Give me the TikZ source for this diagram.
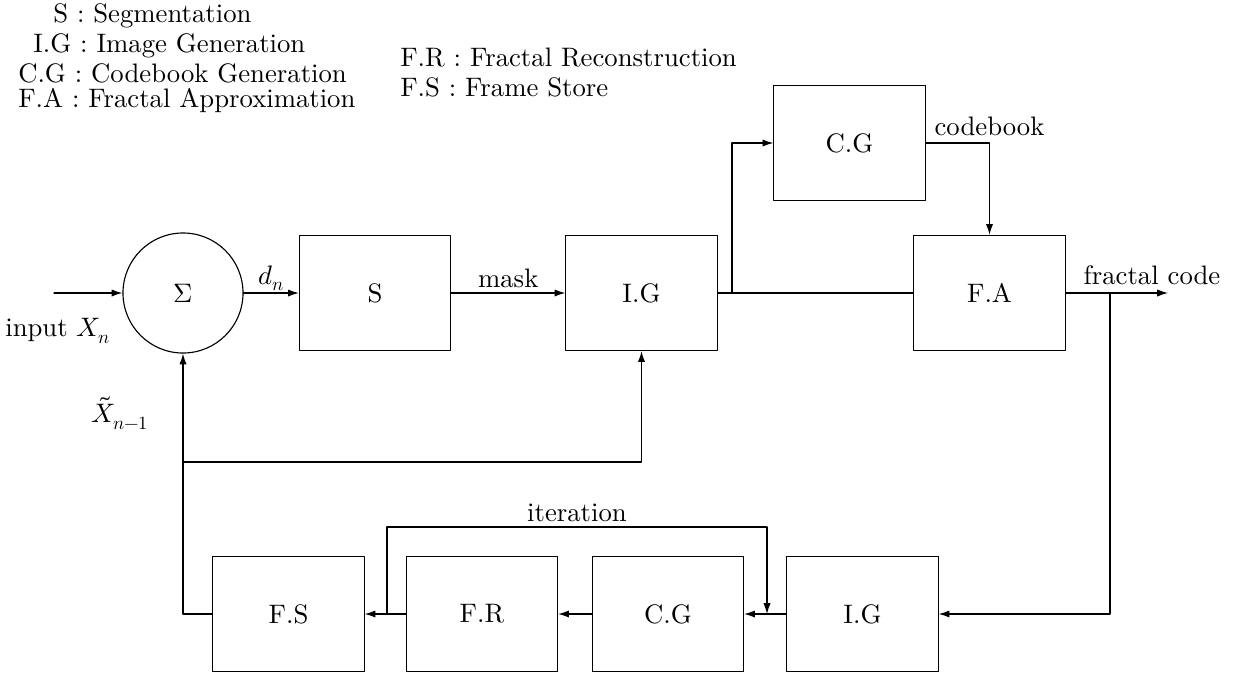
\documentclass[tikz,border=0pt]{standalone}
\usepackage{amsmath}
\usepackage{fontspec}
\usepackage{unicode-math}
\setmainfont{lmroman10-regular.otf}
\setmathfont{latinmodern-math.otf}
\usepackage{tikz}
\usetikzlibrary{arrows.meta,positioning}
\tikzset{
  every picture/.append style={line cap=round,line join=round},
  fc line/.style={line width=0.8pt},
  fc arrow/.style={line width=0.8pt,-{Latex[length=2.7mm,width=1.8mm]}},
  fc box/.style={draw,line width=0.8pt,minimum width=3.78cm,minimum height=2.88cm,inner sep=0pt},
  fc sum/.style={draw,circle,line width=0.8pt,minimum size=3cm,inner sep=0pt},
  fc label/.style={inner sep=1pt},
  fc legend/.style={anchor=west,inner sep=0pt}
}

\begin{document}
\begin{tikzpicture}[x=0.025cm,y=-0.025cm,font=\fontsize{19}{23}\selectfont]
\useasboundingbox (0,0) rectangle (1236,673);
% legend
\node[fc legend] (lgS) at (53,16) {S : Segmentation};
\node[fc legend] (lgIG) at (33,46) {I.G : Image Generation};
\node[fc legend] (lgCG) at (18,73) {C.G : Codebook Generation};
\node[fc legend] (lgFA) at (18,101) {F.A : Fractal Approximation};
\node[fc legend] (lgFR) at (400,58) {F.R : Fractal Reconstruction};
\node[fc legend] (lgFS) at (400,87) {F.S : Frame Store};

% encoder row
\node[fc sum] (sum) at (183,293) {$\Sigma$};
\node[fc box] (seg) at (375,293) {S};
\node[fc box] (igtop) at (641.5,293) {I.G};
\node[fc box] (cgtop) at (849.5,143) {C.G};
\node[fc box] (fa) at (989.5,293) {F.A};

% decoder row
\node[fc box] (fs) at (288.5,614) {F.S};
\node[fc box] (fr) at (482,614) {F.R};
\node[fc box] (cgbot) at (668,614) {C.G};
\node[fc box] (igbot) at (862.5,614) {I.G};

\coordinate (inp) at (54,293);
\coordinate (split1) at (732,293);
\coordinate (split2) at (1110,293);
\coordinate (out) at (1168,293);
\coordinate (fbk) at (183,462);
\coordinate (itL) at (387,614);
\coordinate (itR) at (767,614);

\draw[fc arrow] (inp) -- (sum);
\node[fc label] (lblin) at (58,331) {input $X_n$};
\draw[fc arrow] (sum) -- node[fc label,above] (lbldn) {$d_n$} (seg);
\draw[fc arrow] (seg) -- node[fc label,above=2pt] (lblmask) {mask} (igtop);
\draw[fc line] (igtop) -- (fa);
\draw[fc arrow] (split1) |- (cgtop);
\draw[fc arrow] (cgtop) -| node[fc label,pos=0.5,above=4pt] (lblcb) {codebook} (fa);
\draw[fc arrow] (fa) -- (out);
\node[fc label,anchor=south west] (lblfc) at (1082,286) {fractal code};
\draw[fc arrow] (split2) |- (igbot);

\draw[fc arrow] (igbot) -- (cgbot);
\draw[fc arrow] (cgbot) -- (fr);
\draw[fc arrow] (fr) -- (fs);
\draw[fc arrow] (itL) -- ++(0,-87) -| node[fc label,pos=0.25,above=2pt] (lblit) {iteration} (itR);

\draw[fc arrow] (fs) -| (sum);
\draw[fc arrow] (fbk) -| (igtop);
\node[fc label] (lblx) at (120,413) {$\tilde{X}_{n-1}$};
\end{tikzpicture}
\end{document}
